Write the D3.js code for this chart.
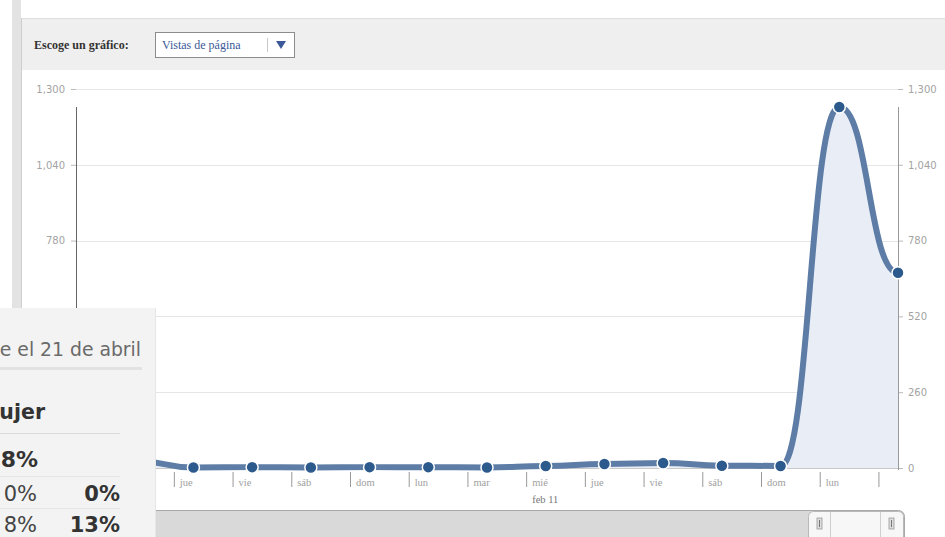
<!DOCTYPE html>
<html>
<head>
<meta charset="utf-8">
<script src="https://cdn.jsdelivr.net/npm/d3@7"></script>
<style>
  html, body { margin: 0; padding: 0; background: #fff; }
  svg { display: block; }
</style>
</head>
<body>
<svg id="chart" width="945" height="537"></svg>
<script>
// page views per day, points sit at Pacific midnight (08:00 UTC)
var dayDates = ["2009-02-03","2009-02-04","2009-02-05","2009-02-06","2009-02-07","2009-02-08","2009-02-09",
                "2009-02-10","2009-02-11","2009-02-12","2009-02-13","2009-02-14","2009-02-15","2009-02-16","2009-02-17"];
var pageViews = [30, 25, 2, 3, 2, 3, 3, 2, 7, 14, 17, 8, 7, 1238, 670];
var yTicks = [0, 260, 520, 780, 1040, 1300];
var dayNames = ["dom","lun","mar","mié","jue","vie","sáb"];
var monthNames = ["ene","feb","mar","abr","may","jun","jul","ago","sep","oct","nov","dic"];
var panelRows = [["0%","0%"],["8%","13%"]];

var w = 945, h = 537;
var svg = d3.select('#chart');

var parsePoint = function(s){ var p = s.split('-'); return new Date(Date.UTC(+p[0], +p[1]-1, +p[2], 8)); };
var data = dayDates.map(function(d,i){ return {date: parsePoint(d), value: pageViews[i]}; });

var x = d3.scaleUtc().domain(d3.extent(data, function(d){ return d.date; })).range([76, 898]);
var y = d3.scaleLinear().domain([0, 1300]).range([468, 89]);

// page chrome
svg.append('rect').attr('width', w).attr('height', h).attr('fill', '#fff');
svg.append('rect').attr('x', 12).attr('y', 0).attr('width', 9).attr('height', 312).attr('fill', '#e3e3e3');
svg.append('rect').attr('x', 21).attr('y', 18).attr('width', w - 21).attr('height', 52).attr('fill', '#efefef');
svg.append('line').attr('x1', 21).attr('x2', w).attr('y1', 18.5).attr('y2', 18.5).attr('stroke', '#dedede');
svg.append('line').attr('x1', 21.5).attr('x2', 21.5).attr('y1', 18).attr('y2', 312).attr('stroke', '#cfcfcf');

svg.append('text').attr('x', 34).attr('y', 49)
  .attr('font-family', 'Liberation Serif').attr('font-weight', 'bold').attr('font-size', 12)
  .attr('fill', '#333').text('Escoge un gráfico:');
svg.append('rect').attr('x', 155.5).attr('y', 32.5).attr('width', 139).attr('height', 25)
  .attr('fill', '#fff').attr('stroke', '#8c8c8c');
svg.append('text').attr('x', 162).attr('y', 49)
  .attr('font-family', 'Liberation Serif').attr('font-size', 12)
  .attr('fill', '#3b5998').text('Vistas de página');
svg.append('line').attr('x1', 267.5).attr('x2', 267.5).attr('y1', 38).attr('y2', 52).attr('stroke', '#c8c8c8');
svg.append('path').attr('d', 'M276,41 L286,41 L281,49 Z').attr('fill', '#3b5998');

// grid
var chart = svg.append('g');
chart.selectAll('.grid').data(yTicks).enter().append('line')
  .attr('class', 'grid')
  .attr('x1', 76).attr('x2', 898)
  .attr('y1', function(d){ return Math.round(y(d)) + 0.5; })
  .attr('y2', function(d){ return Math.round(y(d)) + 0.5; })
  .attr('stroke', function(d){ return d === 0 ? '#c9c9c9' : '#e6e6e6'; });

// y axes
var fmt = d3.format(',');
var leftAxis = chart.append('g').attr('transform', 'translate(76,0)')
  .call(d3.axisLeft(y).tickValues(yTicks).tickFormat(fmt).tickSize(5).tickPadding(6));
var rightAxis = chart.append('g').attr('transform', 'translate(898,0)')
  .call(d3.axisRight(y).tickValues(yTicks).tickFormat(fmt).tickSize(5).tickPadding(5));
[leftAxis, rightAxis].forEach(function(a){
  a.select('.domain').remove();
  a.selectAll('line').attr('stroke', '#bbb');
  a.selectAll('text').attr('font-family', 'DejaVu Sans').attr('font-size', 10).attr('fill', '#a3a3a3');
});
chart.append('line').attr('x1', 76.5).attr('x2', 76.5).attr('y1', 107).attr('y2', 470).attr('stroke', '#666');
chart.append('line').attr('x1', 898.5).attr('x2', 898.5).attr('y1', 107).attr('y2', 470).attr('stroke', '#999');

// x axis: ticks at UTC midnight
var tickDates = d3.utcDay.range(d3.utcDay.ceil(x.domain()[0]), x.domain()[1]);
var xAxis = chart.append('g').attr('transform', 'translate(0,472)')
  .call(d3.axisBottom(x).tickValues(tickDates).tickSize(15).tickFormat(''));
xAxis.select('.domain').remove();
xAxis.selectAll('line').attr('stroke', '#999');
chart.selectAll('.daylbl').data(tickDates.filter(function(d){ return x(d) + 25 < 898; }))
  .enter().append('text')
  .attr('class', 'daylbl')
  .attr('x', function(d){ return x(d) + 6; }).attr('y', 486)
  .attr('font-family', 'Liberation Serif').attr('font-size', 10.5).attr('fill', '#a0a0a0')
  .text(function(d){ return dayNames[d.getUTCDay()]; });
chart.selectAll('.monlbl').data(tickDates.filter(function(d){ return d.getUTCDay() === 3; }))
  .enter().append('text')
  .attr('class', 'monlbl')
  .attr('x', function(d){ return x(d) + 6; }).attr('y', 503)
  .attr('font-family', 'Liberation Serif').attr('font-size', 10.5).attr('fill', '#777')
  .text(function(d){ return monthNames[d.getUTCMonth()] + ' ' + d.getUTCDate(); });

// area + line + dots
var area = d3.area().curve(d3.curveBumpX)
  .x(function(d){ return x(d.date); }).y0(y(0)).y1(function(d){ return y(d.value); });
var line = d3.line().curve(d3.curveBumpX)
  .x(function(d){ return x(d.date); }).y(function(d){ return y(d.value); });
chart.append('path').datum(data).attr('d', area).attr('fill', '#e9eef6');
chart.append('path').datum(data).attr('d', line)
  .attr('fill', 'none').attr('stroke', '#5d7ca6').attr('stroke-width', 6)
  .attr('stroke-linejoin', 'round').attr('stroke-linecap', 'round');
chart.selectAll('.dot').data(data).enter().append('circle')
  .attr('class', 'dot')
  .attr('cx', function(d){ return x(d.date); }).attr('cy', function(d){ return y(d.value); })
  .attr('r', 6).attr('fill', '#2d5a8c').attr('stroke', '#fff').attr('stroke-width', 1.5);

// scroll bar
svg.append('rect').attr('x', 140.5).attr('y', 510.5).attr('width', 764).attr('height', 34).attr('rx', 6)
  .attr('fill', '#d9d9d9').attr('stroke', '#a8a8a8');
svg.append('rect').attr('x', 808.5).attr('y', 511.5).attr('width', 95).attr('height', 32).attr('rx', 5)
  .attr('fill', '#f7f7f7').attr('stroke', '#b8b8b8');
[830.5, 880.5].forEach(function(d){
  svg.append('line').attr('x1', d).attr('x2', d).attr('y1', 512).attr('y2', 537).attr('stroke', '#cfcfcf');
});
[817, 889].forEach(function(d){
  svg.append('rect').attr('x', d).attr('y', 518).attr('width', 5).attr('height', 11).attr('fill', '#ddd').attr('stroke', '#999').attr('stroke-width', 0.8);
  svg.append('line').attr('x1', d + 2.5).attr('x2', d + 2.5).attr('y1', 520).attr('y2', 527).attr('stroke', '#777');
});

// overlapping panel on the left
var panel = svg.append('g');
panel.append('rect').attr('x', 0).attr('y', 308).attr('width', 155).attr('height', 229).attr('fill', '#f3f3f3');
panel.append('line').attr('x1', 155.5).attr('x2', 155.5).attr('y1', 308).attr('y2', 537).attr('stroke', '#e6e6e6');
panel.append('text').attr('x', 141).attr('y', 356).attr('text-anchor', 'end')
  .attr('font-family', 'DejaVu Sans').attr('font-size', 18.8).attr('fill', '#6a6a6a')
  .text('e el 21 de abril');
panel.append('rect').attr('x', 0).attr('y', 367).attr('width', 142).attr('height', 3).attr('fill', '#e2e2e2');
panel.append('text').attr('x', 45).attr('y', 419).attr('text-anchor', 'end')
  .attr('font-family', 'DejaVu Sans').attr('font-weight', 'bold').attr('font-size', 20.5).attr('fill', '#333')
  .text('ujer');
panel.append('line').attr('x1', 0).attr('x2', 120).attr('y1', 433.5).attr('y2', 433.5).attr('stroke', '#dcdcdc');
panel.append('text').attr('x', 38).attr('y', 467).attr('text-anchor', 'end')
  .attr('font-family', 'DejaVu Sans').attr('font-weight', 'bold').attr('font-size', 22).attr('fill', '#333')
  .text('8%');
[476.5, 508.5].forEach(function(d){
  panel.append('line').attr('x1', 0).attr('x2', 120).attr('y1', d).attr('y2', d).attr('stroke', '#e6e6e6');
});
panel.selectAll('.row').data(panelRows).enter().append('g')
  .attr('class', 'row')
  .each(function(r, i){
    var g = d3.select(this), yy = 501 + i * 31;
    g.append('text').attr('x', 37).attr('y', yy).attr('text-anchor', 'end')
      .attr('font-family', 'DejaVu Sans').attr('font-size', 21).attr('fill', '#444').text(r[0]);
    g.append('text').attr('x', 120).attr('y', yy).attr('text-anchor', 'end')
      .attr('font-family', 'DejaVu Sans').attr('font-weight', 'bold').attr('font-size', 21).attr('fill', '#333').text(r[1]);
  });
</script>
</body>
</html>
